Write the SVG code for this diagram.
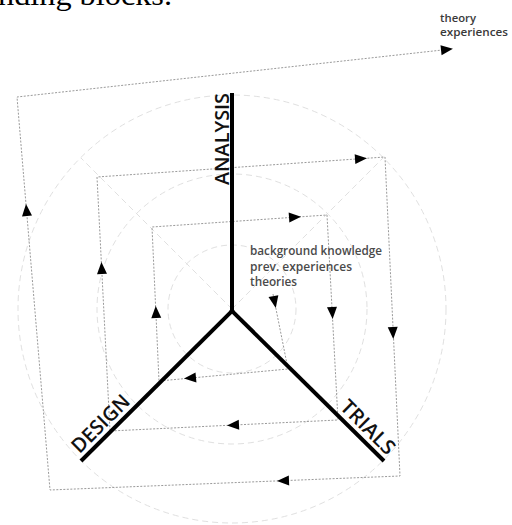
<svg xmlns="http://www.w3.org/2000/svg" width="512" height="525" viewBox="0 0 512 525">
  <style>
    .guide { fill: none; stroke: #e0e0e0; stroke-width: 1; stroke-dasharray: 6 4; }
    .flow { fill: none; stroke: #9a9a9a; stroke-width: 1; stroke-dasharray: 2 1.5; }
    .axis { stroke: #000; stroke-width: 4; stroke-linecap: butt; }
    .axlabel { font-family: "Open Sans", "DejaVu Sans", sans-serif; font-size: 20px; font-weight: 600; fill: #111; }
    .note { font-family: "Open Sans", "Lato", sans-serif; font-size: 12px; font-weight: 600; fill: #4a4a4a; }
    .small { font-family: "Open Sans", "Lato", sans-serif; font-size: 11px; font-weight: 600; fill: #3a3a3a; }
  </style>
  <defs>
    <path id="ah" d="M6,0 L-6,-5 L-6,5 Z" fill="#000"/>
  </defs>
  <rect width="512" height="525" fill="#fff"/>

  <text x="-2" y="5" font-family="'Liberation Serif', serif" font-size="30" fill="#000" textLength="174" lengthAdjust="spacingAndGlyphs">nding blocks.</text>

  <g id="guides">
    <circle class="guide" cx="232" cy="309" r="64"/>
    <circle class="guide" cx="232" cy="309" r="135"/>
    <circle class="guide" cx="232" cy="309" r="214"/>
    <line class="guide" x1="232" y1="309" x2="81" y2="158"/>
    <line class="guide" x1="232" y1="309" x2="383" y2="158"/>
  </g>

  <g id="connectors">
    <path class="flow" d="M273,294 L288,369 L159,381 L152,227 L327,215 L338,420 L110,431 L97,177 L385,157 L400,476 L50,490 L17,97 L447,49.5"/>
    <use href="#ah" transform="translate(274.6,302) rotate(78.7)"/>
    <use href="#ah" transform="translate(190,378) rotate(174.7)"/>
    <use href="#ah" transform="translate(156,312) rotate(-92.6)"/>
    <use href="#ah" transform="translate(295,217.2) rotate(-3.9)"/>
    <use href="#ah" transform="translate(332.3,313) rotate(86.9)"/>
    <use href="#ah" transform="translate(233,425.1) rotate(177.2)"/>
    <use href="#ah" transform="translate(101.7,268) rotate(-92.9)"/>
    <use href="#ah" transform="translate(361,158.7) rotate(-4)"/>
    <use href="#ah" transform="translate(393,333) rotate(87.3)"/>
    <use href="#ah" transform="translate(283,480.7) rotate(177.7)"/>
    <use href="#ah" transform="translate(26.5,210) rotate(-94.8)"/>
    <use href="#ah" transform="translate(447,49.5) rotate(-6.3)"/>
  </g>

  <g id="analysis">
    <line class="axis" x1="232" y1="93" x2="232" y2="311"/>
    <text class="axlabel" transform="translate(228.5,185) rotate(-90)" textLength="92" lengthAdjust="spacingAndGlyphs">ANALYSIS</text>
  </g>

  <g id="design">
    <line class="axis" x1="233.4" y1="309.6" x2="81" y2="461"/>
    <text class="axlabel" transform="translate(79.6,454.3) rotate(-45)" textLength="73" lengthAdjust="spacingAndGlyphs">DESIGN</text>
  </g>

  <g id="trials">
    <line class="axis" x1="230.6" y1="309.6" x2="384" y2="461"/>
    <text class="axlabel" transform="translate(339,408) rotate(45)" textLength="68" lengthAdjust="spacingAndGlyphs">TRIALS</text>
  </g>

  <g id="background">
    <text class="note" x="250" y="255" textLength="132" lengthAdjust="spacingAndGlyphs">background knowledge</text>
    <text class="note" x="250" y="270.5" textLength="102" lengthAdjust="spacingAndGlyphs">prev. experiences</text>
    <text class="note" x="250" y="286" textLength="47" lengthAdjust="spacingAndGlyphs">theories</text>
  </g>

  <g id="theory">
    <text class="small" x="440" y="21.5" textLength="36" lengthAdjust="spacingAndGlyphs">theory</text>
    <text class="small" x="440" y="36" textLength="68" lengthAdjust="spacingAndGlyphs">experiences</text>
  </g>
</svg>
